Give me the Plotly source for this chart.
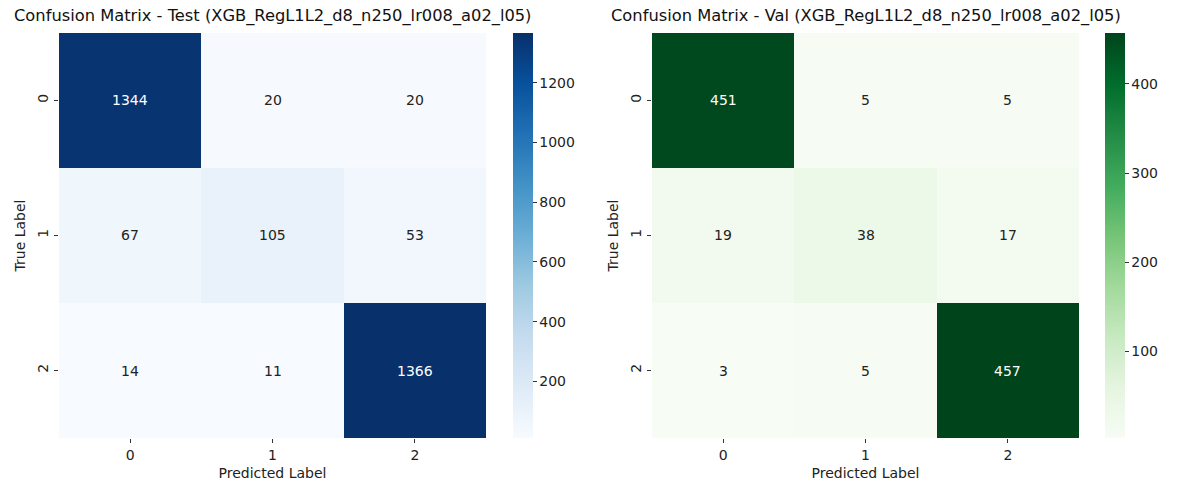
import plotly.graph_objects as go
from plotly.colors import sample_colorscale, unlabel_rgb

labels = ["0", "1", "2"]
test_cm = [[1344, 20, 20], [67, 105, 53], [14, 11, 1366]]
val_cm = [[451, 5, 5], [19, 38, 17], [3, 5, 457]]
titles = ["Confusion Matrix - Test (XGB_RegL1L2_d8_n250_lr008_a02_l05)",
          "Confusion Matrix - Val (XGB_RegL1L2_d8_n250_lr008_a02_l05)"]
test_ticks = [200, 400, 600, 800, 1000, 1200]
val_ticks = [100, 200, 300, 400]

blues = ["#f7fbff", "#deebf7", "#c6dbef", "#9ecae1", "#6baed6", "#4292c6", "#2171b5", "#08519c", "#08306b"]
greens = ["#f7fcf5", "#e5f5e0", "#c7e9c0", "#a1d99b", "#74c476", "#41ab5d", "#238b45", "#006d2c", "#00441b"]

def scale(cols):
    n = len(cols) - 1
    return [[i / n, c] for i, c in enumerate(cols)]

W, H = 1196, 493
FONT = "DejaVu Sans"
top_px, bot_px = 33, 438
y0, y1 = 1 - bot_px / H, 1 - top_px / H
panels = [
    dict(cm=test_cm, cols=blues, ticks=test_ticks, x0=59, x1=486, cb=513, title=titles[0]),
    dict(cm=val_cm, cols=greens, ticks=val_ticks, x0=652, x1=1079, cb=1105, title=titles[1]),
]

fig = go.Figure()
annotations = []

def lum(rgbstr):
    r, g, b = [v / 255 for v in unlabel_rgb(rgbstr)]
    def f(c):
        return c / 12.92 if c <= 0.03928 else ((c + 0.055) / 1.055) ** 2.4
    return 0.2126 * f(r) + 0.7152 * f(g) + 0.0722 * f(b)

for i, p in enumerate(panels):
    xa = "x" if i == 0 else "x2"
    ya = "y" if i == 0 else "y2"
    cs = scale(p["cols"])
    flat = [v for row in p["cm"] for v in row]
    zmin, zmax = min(flat), max(flat)
    fig.add_trace(go.Heatmap(
        z=p["cm"], x=labels, y=labels, xaxis=xa, yaxis=ya,
        colorscale=cs, zmin=zmin, zmax=zmax, hoverinfo="skip",
        colorbar=dict(x=p["cb"] / W, xanchor="left", xpad=0, ypad=0,
                      y=(y0 + y1) / 2, yanchor="middle", len=y1 - y0, lenmode="fraction",
                      thickness=20, thicknessmode="pixels", outlinewidth=0,
                      tickvals=p["ticks"], ticks="outside", ticklen=4, tickwidth=1,
                      tickcolor="#333", tickfont=dict(family=FONT, size=14, color="#222")),
    ))
    for r, row in enumerate(p["cm"]):
        for c, v in enumerate(row):
            col = sample_colorscale(cs, [(v - zmin) / (zmax - zmin)])[0]
            tc = "white" if lum(col) < 0.408 else "#222"
            annotations.append(dict(x=labels[c], y=labels[r], xref=xa, yref=ya, text=str(v),
                                    showarrow=False, font=dict(family=FONT, size=14, color=tc)))
    annotations.append(dict(x=(p["x0"] + p["x1"]) / 2 / W, y=y1 + 5 / H, xref="paper", yref="paper",
                            text=p["title"], showarrow=False, xanchor="center", yanchor="bottom",
                            font=dict(family=FONT, size=16.3, color="#111")))

axis_common = dict(showgrid=False, zeroline=False, showline=False, ticks="outside", ticklen=4,
                   tickwidth=1, tickcolor="#333", tickfont=dict(family=FONT, size=14, color="#222"))
title_font = dict(family=FONT, size=14, color="#222")
fig.update_layout(
    width=W, height=H, margin=dict(l=0, r=0, t=0, b=0),
    paper_bgcolor="white", plot_bgcolor="white",
    xaxis=dict(domain=[panels[0]["x0"] / W, panels[0]["x1"] / W], anchor="y",
               title=dict(text="Predicted Label", font=title_font, standoff=6), **axis_common),
    yaxis=dict(domain=[y0, y1], anchor="x", autorange="reversed", tickangle=-90,
               title=dict(text="True Label", font=title_font, standoff=6), **axis_common),
    xaxis2=dict(domain=[panels[1]["x0"] / W, panels[1]["x1"] / W], anchor="y2",
                title=dict(text="Predicted Label", font=title_font, standoff=6), **axis_common),
    yaxis2=dict(domain=[y0, y1], anchor="x2", autorange="reversed", tickangle=-90,
                title=dict(text="True Label", font=title_font, standoff=6), **axis_common),
    annotations=annotations,
)
fig.write_html("out.html", config={"displayModeBar": False},
               post_script="document.body.style.margin='0px';")
